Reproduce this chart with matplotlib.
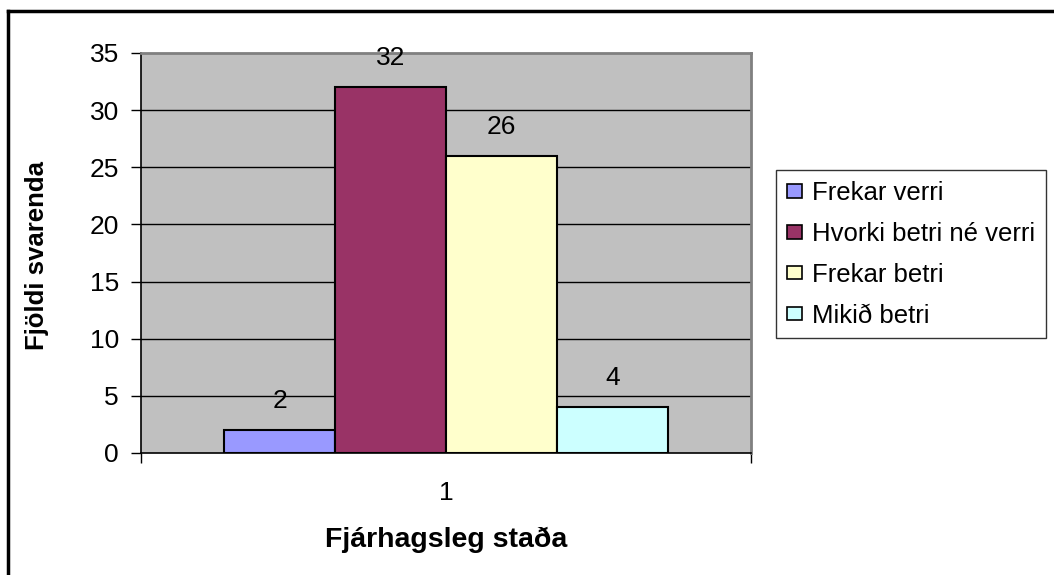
import matplotlib.pyplot as plt
from matplotlib.lines import Line2D
import numpy as np

plt.rcParams['font.family'] = ['Liberation Sans', 'DejaVu Sans']

categories = ['1']
series = ['Frekar verri', 'Hvorki betri né verri', 'Frekar betri', 'Mikið betri']
values = [2, 32, 26, 4]
colors = ['#9999FF', '#993366', '#FFFFCC', '#CCFFFF']
yticks = [0, 5, 10, 15, 20, 25, 30, 35]

W, H = 1054, 575
fig = plt.figure(figsize=(W / 100, H / 100), dpi=100)

# plot area in pixels: x 141..751, y 53..453
ax = fig.add_axes([141 / W, (H - 453) / H, 610 / W, 400 / H])
ax.set_facecolor('#C0C0C0')

n = len(series)
bw = 1 / (n + 1.5)
xs = (np.arange(n) - (n - 1) / 2) * bw
for x, v, c, s in zip(xs, values, colors, series):
    ax.bar(x, v, width=bw, color=c, edgecolor='black', linewidth=1.5, label=s, zorder=3)
    ax.annotate(str(v), (x, v), xytext=(0, 21), textcoords='offset points',
                ha='center', va='center', fontsize=19, zorder=4)

ax.set_xlim(-0.5, 0.5)
ax.set_ylim(0, 35)
ax.set_yticks(yticks)
ax.tick_params(axis='y', labelsize=19, length=7, width=1, direction='out', pad=9)
for y in yticks[1:-1]:
    ax.axhline(y, color='black', linewidth=1, zorder=1)

ax.set_xticks([-0.5, 0.5])
ax.set_xticklabels(['', ''])
ax.tick_params(axis='x', length=7, width=1, direction='out')
ax.set_xticks([0], minor=True)
ax.set_xticklabels(categories, minor=True)
ax.tick_params(axis='x', which='minor', length=0, labelsize=19, pad=20)

ax.spines['left'].set_color('black')
ax.spines['bottom'].set_color('black')
ax.spines['left'].set_linewidth(1.2)
ax.spines['bottom'].set_linewidth(1.2)
ax.spines['top'].set_color('#808080')
ax.spines['right'].set_color('#808080')
ax.spines['top'].set_linewidth(2)
ax.spines['right'].set_linewidth(2)

fig.text(446 / W, 1 - 540 / H, 'Fjárhagsleg staða', ha='center', va='center',
         fontsize=20.5, fontweight='bold')
fig.text(37 / W, 1 - 255 / H, 'Fjöldi svarenda', ha='center', va='center',
         rotation=90, fontsize=18.5, fontweight='bold')

leg = fig.legend(loc='upper left', bbox_to_anchor=(776 / W, 1 - 170 / H),
                 fontsize=18.5, frameon=True, fancybox=False, borderaxespad=0,
                 handlelength=0.6, handleheight=0.45, handletextpad=0.4,
                 labelspacing=0.66, borderpad=0.42)
leg.get_frame().set_edgecolor('black')
leg.get_frame().set_linewidth(1)
for h in leg.legend_handles:
    h.set_linewidth(1.2)

# outer chart border (left and top, right/bottom fall outside image)
fig.add_artist(Line2D([8 / W, 8 / W], [0, 1 - 11 / H], color='black', linewidth=2.5))
fig.add_artist(Line2D([8 / W, 1], [1 - 11 / H, 1 - 11 / H], color='black', linewidth=2.5))

fig.savefig('out.png', dpi=100)
